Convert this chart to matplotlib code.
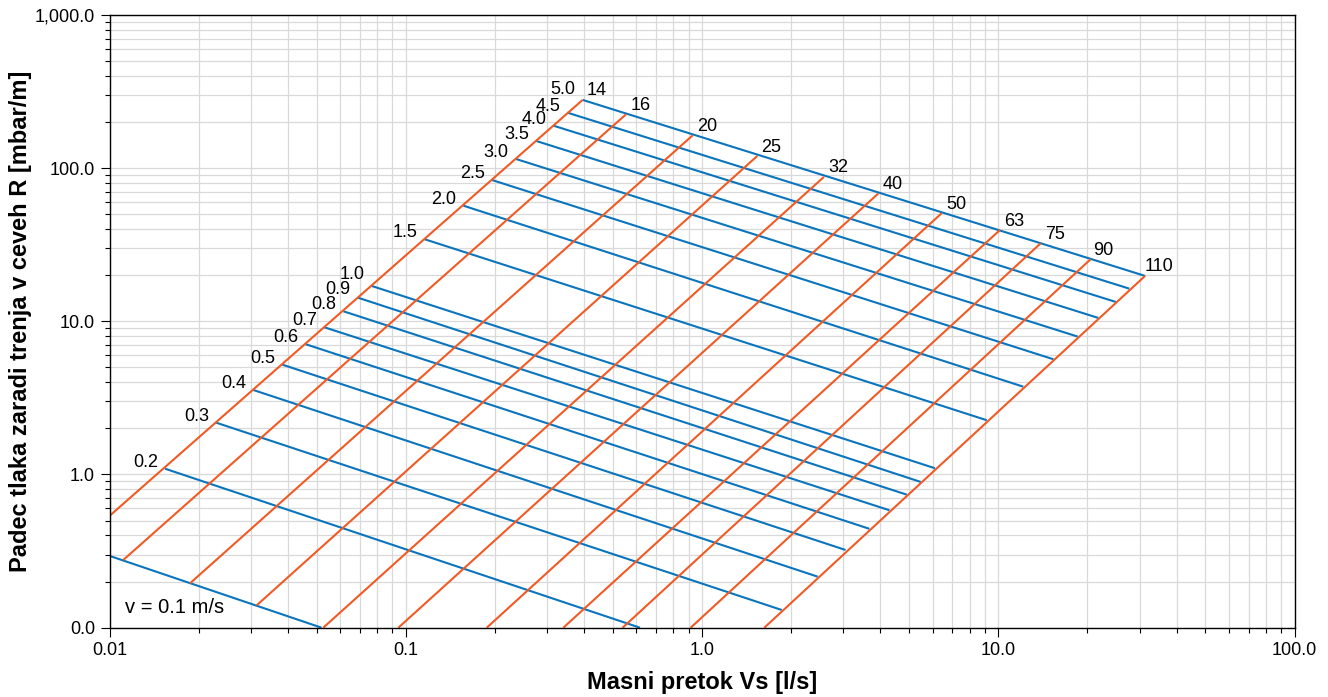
import matplotlib
matplotlib.use("Agg")
import matplotlib.pyplot as plt
from matplotlib.ticker import NullFormatter, LogLocator

plt.rcParams['font.family'] = ['Liberation Sans', 'DejaVu Sans']

# pipe sizes (orange lines): upper end at v = 5 m/s, lower visible end
diameters = ['14', '16', '20', '25', '32', '40', '50', '63', '75', '90', '110']
dia_top_q = [0.395, 0.554, 0.930, 1.536, 2.579, 3.935, 6.44, 10.13, 13.91, 20.5, 31.3]
dia_top_r = [278.3, 224.4, 163.7, 119.9, 87.5, 68.2, 50.7, 39.4, 32.3, 25.4, 19.76]
dia_low_q = [0.01, 0.01111, 0.01867, 0.03135, 0.0526, 0.0943, 0.1875, 0.340, 0.539, 0.915, 1.622]
dia_low_r = [0.538, 0.2766, 0.1949, 0.140, 0.1, 0.1, 0.1, 0.1, 0.1, 0.1, 0.1]

# flow velocities (blue lines): left end on the 14 pipe, right end on the 110 pipe
velocities = [0.1, 0.2, 0.3, 0.4, 0.5, 0.6, 0.7, 0.8, 0.9, 1.0, 1.5, 2.0, 2.5, 3.0, 3.5, 4.0, 4.5, 5.0]
vel_left_q = [0.01, 0.01537, 0.02285, 0.03053, 0.03826, 0.0459, 0.0530, 0.0615, 0.0688, 0.0766,
              0.1151, 0.1563, 0.1949, 0.2348, 0.2749, 0.3145, 0.3506, 0.395]
vel_left_r = [0.294, 1.091, 2.18, 3.56, 5.21, 7.08, 9.14, 11.62, 14.26, 17.0,
              34.4, 56.8, 83.6, 114.7, 150.3, 189.1, 229.9, 278.3]
vel_right_q = [0.0519, 0.617, 1.857, 2.457, 3.05, 3.67, 4.29, 4.91, 5.47, 6.11,
               9.14, 12.14, 15.34, 18.54, 21.76, 24.91, 27.69, 31.3]
vel_right_r = [0.1, 0.1, 0.1305, 0.2152, 0.3215, 0.442, 0.584, 0.738, 0.894, 1.098,
               2.26, 3.74, 5.65, 7.94, 10.51, 13.37, 16.32, 19.76]

x_ticks = [0.01, 0.1, 1, 10, 100]
x_tick_labels = ['0.01', '0.1', '1.0', '10.0', '100.0']
y_ticks = [0.1, 1, 10, 100, 1000]
y_tick_labels = ['0.0', '1.0', '10.0', '100.0', '1,000.0']

BLUE = '#0a74bc'
ORANGE = '#f05a24'

fig = plt.figure(figsize=(13.28, 6.97), dpi=100)
ax = fig.add_axes([0.08261, 0.09943, 0.89217, 0.87934])
ax.set_xscale('log')
ax.set_yscale('log')
ax.set_xlim(0.01, 100)
ax.set_ylim(0.1, 1000)

for i in range(len(velocities)):
    ax.plot([vel_left_q[i], vel_right_q[i]], [vel_left_r[i], vel_right_r[i]],
            color=BLUE, lw=1.5, solid_capstyle='butt')
for i in range(len(diameters)):
    ax.plot([dia_low_q[i], dia_top_q[i]], [dia_low_r[i], dia_top_r[i]],
            color=ORANGE, lw=1.5, solid_capstyle='butt')

# velocity labels at the left ends
nudge = {'5.0': 3.0, '1.0': 3.5, '0.9': 1.0}
for i in range(1, len(velocities)):
    lab = f'{velocities[i]:.1f}'
    ax.annotate(lab, (vel_left_q[i], vel_left_r[i]), xytext=(-5, 1.4 + nudge.get(lab, 0)),
                textcoords='offset points', ha='right', va='baseline', fontsize=13)
ax.text(0.01126, 0.1253, 'v = 0.1 m/s', ha='left', va='baseline', fontsize=14.5)

# pipe size labels at the upper ends
for i in range(len(diameters)):
    dx = 3.0 if i < 9 else (1.5 if i == 9 else -0.5)
    ax.annotate(diameters[i], (dia_top_q[i], dia_top_r[i]), xytext=(dx, 3.2),
                textcoords='offset points', ha='left', va='baseline', fontsize=13)

ax.set_xticks(x_ticks)
ax.set_xticklabels(x_tick_labels)
ax.set_yticks(y_ticks)
ax.set_yticklabels(y_tick_labels)
ax.xaxis.set_minor_locator(LogLocator(base=10, subs=range(2, 10)))
ax.yaxis.set_minor_locator(LogLocator(base=10, subs=range(2, 10)))
ax.xaxis.set_minor_formatter(NullFormatter())
ax.yaxis.set_minor_formatter(NullFormatter())
ax.tick_params(which='major', length=6.5, width=0.8, labelsize=13, pad=4)
ax.tick_params(which='minor', length=3.6, width=0.8)

ax.grid(which='both', color='#d9d9d9', linewidth=0.9)
ax.set_axisbelow(True)
for s in ax.spines.values():
    s.set_linewidth(1.0)

fig.text(0.0151, 0.5391, 'Padec tlaka zaradi trenja v ceveh R [mbar/m]', rotation=90,
         ha='center', va='center', fontsize=17, fontweight='bold')
fig.text(0.5287, 0.0119, 'Masni pretok Vs [l/s]', ha='center', va='baseline',
         fontsize=17, fontweight='bold')

fig.savefig('out.png', dpi=100)
